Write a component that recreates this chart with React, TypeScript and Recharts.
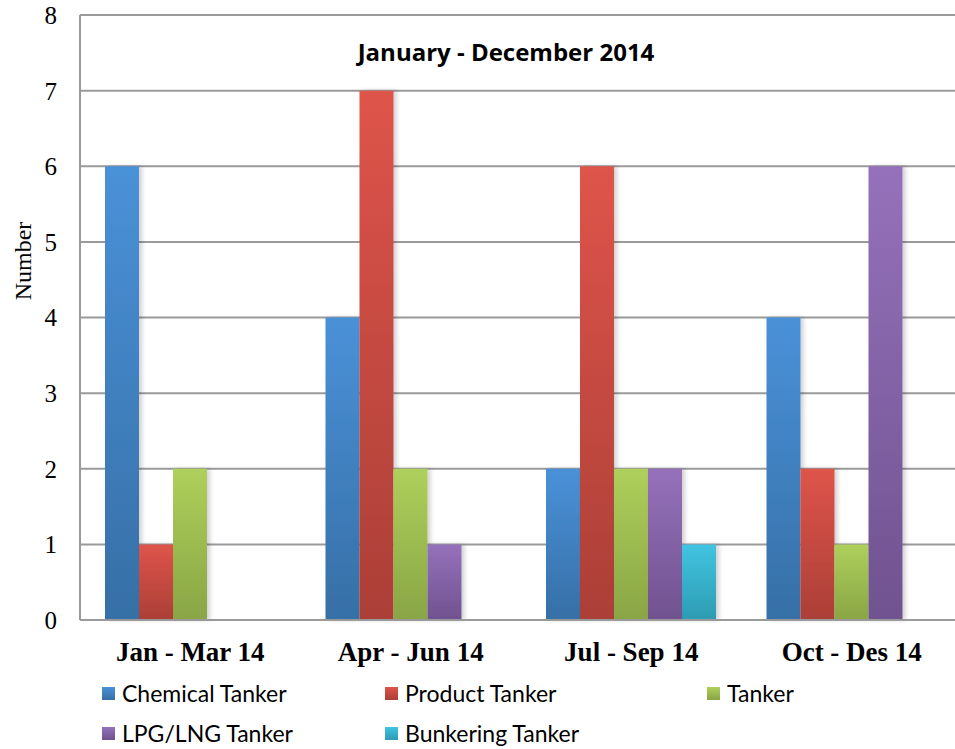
import { BarChart, Bar, XAxis, YAxis, CartesianGrid } from 'recharts'

const quarters = ['Jan - Mar 14', 'Apr - Jun 14', 'Jul - Sep 14', 'Oct - Des 14']
const chemical = [6, 4, 2, 4]
const product = [1, 7, 6, 2]
const tanker = [2, 2, 2, 1]
const lpg = [0, 1, 2, 6]
const bunkering = [0, 0, 1, 0]
const yTicks = [0, 1, 2, 3, 4, 5, 6, 7, 8]

const SERIES = [
  { key: 'chemical', name: 'Chemical Tanker', top: '#4a91d8', bottom: '#366fa6' },
  { key: 'product', name: 'Product Tanker', top: '#de544a', bottom: '#ab3f37' },
  { key: 'tanker', name: 'Tanker', top: '#aed05b', bottom: '#89a545' },
  { key: 'lpg', name: 'LPG/LNG Tanker', top: '#9571bb', bottom: '#70528f' },
  { key: 'bunkering', name: 'Bunkering Tanker', top: '#41c4e1', bottom: '#2d9bb2' },
]

const data = quarters.map((q, i) => ({
  quarter: q,
  chemical: chemical[i],
  product: product[i],
  tanker: tanker[i],
  lpg: lpg[i],
  bunkering: bunkering[i],
}))

// legend rows as in the original (3 columns)
const LEGEND_POS = [
  { left: 102, top: 693 },
  { left: 385, top: 693 },
  { left: 707, top: 693 },
  { left: 102, top: 733 },
  { left: 385, top: 733 },
]

export default function App() {
  return (
    <div style={{ position: 'absolute', left: 0, top: 0, width: 955, height: 749, overflow: 'hidden', background: '#fff' }}>
      <BarChart
        width={962}
        height={749}
        data={data}
        margin={{ top: 15, right: 0, left: 0, bottom: 0 }}
        barGap={0}
        barCategoryGap={25}
      >
        <defs>
          {SERIES.map((s) => (
            <linearGradient key={s.key} id={`grad-${s.key}`} x1="0" y1="0" x2="0" y2="1">
              <stop offset="0%" stopColor={s.top} />
              <stop offset="100%" stopColor={s.bottom} />
            </linearGradient>
          ))}
          <filter id="barShadow" x="-20%" y="-5%" width="150%" height="110%">
            <feDropShadow dx="3" dy="0" stdDeviation="2" floodColor="#000" floodOpacity="0.18" />
          </filter>
        </defs>
        <CartesianGrid vertical={false} stroke="#9a9a9a" strokeWidth={2} />
        <XAxis
          dataKey="quarter"
          height={129}
          tickLine={false}
          tickSize={0}
          tickMargin={22}
          axisLine={{ stroke: '#9a9a9a', strokeWidth: 2 }}
          tick={{ fill: '#000', fontFamily: '"Liberation Serif", serif', fontWeight: 700, fontSize: 27 }}
        />
        <YAxis
          width={80}
          domain={[0, 8]}
          ticks={yTicks}
          interval={0}
          tickLine={false}
          tickSize={0}
          tickMargin={23}
          axisLine={{ stroke: '#9a9a9a', strokeWidth: 2 }}
          tick={{ fill: '#000', fontFamily: '"Liberation Serif", serif', fontSize: 25 }}
          label={{
            content: () => (
              <text
                x={23}
                y={261}
                transform="rotate(-90 23 261)"
                textAnchor="middle"
                dominantBaseline="central"
                fontFamily='"Liberation Serif", serif'
                fontSize={24}
                fill="#000"
              >
                Number
              </text>
            ),
          }}
        />
        {SERIES.map((s) => (
          <Bar
            key={s.key}
            dataKey={s.key}
            name={s.name}
            fill={`url(#grad-${s.key})`}
            filter="url(#barShadow)"
            isAnimationActive={false}
          />
        ))}
        <text
          x={506}
          y={51}
          textAnchor="middle"
          dominantBaseline="central"
          fontFamily='"Open Sans", sans-serif'
          fontWeight={700}
          fontSize={24}
          fill="#000"
        >
          January - December 2014
        </text>
      </BarChart>
      {SERIES.map((s, i) => (
        <div
          key={s.key}
          style={{
            position: 'absolute',
            left: LEGEND_POS[i].left,
            top: LEGEND_POS[i].top - 15,
            height: 30,
            display: 'flex',
            alignItems: 'center',
            fontFamily: 'Lato, sans-serif',
            fontSize: 23,
            color: '#000',
            whiteSpace: 'nowrap',
          }}
        >
          <span
            style={{
              display: 'inline-block',
              width: 13,
              height: 13,
              marginRight: 7,
              background: `linear-gradient(${s.top}, ${s.bottom})`,
            }}
          />
          {s.name}
        </div>
      ))}
    </div>
  )
}
